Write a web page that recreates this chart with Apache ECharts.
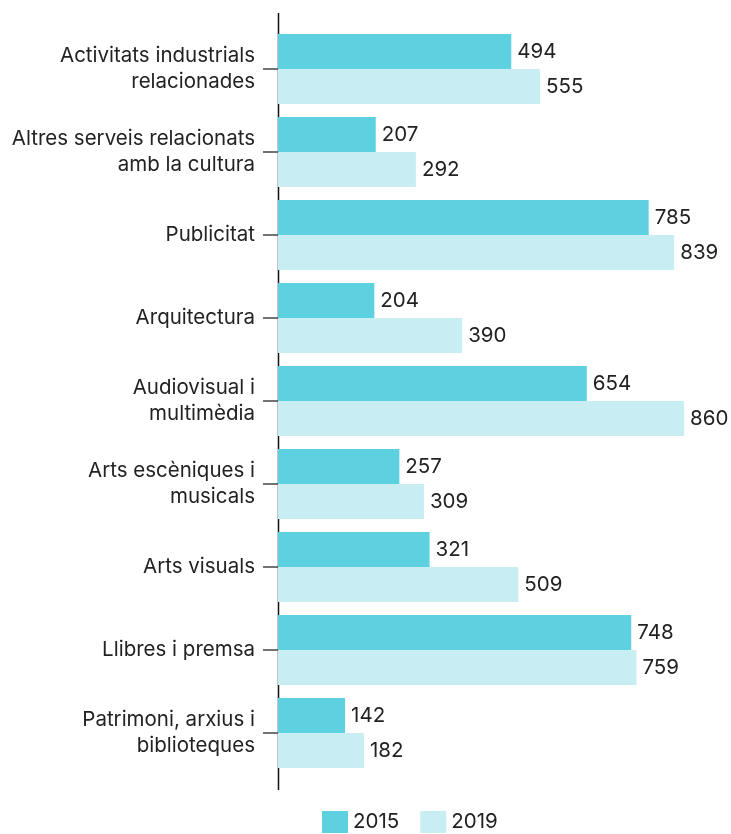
<!DOCTYPE html>
<html><head><meta charset="utf-8">
<script src="https://cdn.jsdelivr.net/npm/echarts@6/dist/echarts.min.js"></script>
<style>html,body{margin:0;padding:0;background:#fff}#c{width:731px;height:834px}</style>
</head><body><div id="c"></div>
<script>
const categories = [
  "Activitats industrials\nrelacionades",
  "Altres serveis relacionats\namb la cultura",
  "Publicitat",
  "Arquitectura",
  "Audiovisual i\nmultimèdia",
  "Arts escèniques i\nmusicals",
  "Arts visuals",
  "Llibres i premsa",
  "Patrimoni, arxius i\nbiblioteques"
];
const values2015 = [494, 207, 785, 204, 654, 257, 321, 748, 142];
const values2019 = [555, 292, 839, 390, 860, 309, 509, 759, 182];
const seriesNames = ["2015", "2019"];

const FONT = "Inter, Roboto, sans-serif";
const FS = 20.5;
const chart = echarts.init(document.getElementById('c'), null, {renderer: 'canvas'});
chart.setOption({
  animation: false,
  textStyle: {fontFamily: FONT},
  grid: {left: 278, top: 27.5, width: 425, height: 747, containLabel: false},
  xAxis: {type: 'value', min: 0, max: 900, show: false},
  yAxis: {
    type: 'category', data: categories, inverse: true,
    axisLine: {show: false},
    axisTick: {show: true, alignWithLabel: true, length: 15, lineStyle: {color: '#444', width: 1.5}},
    axisLabel: {margin: 23, fontSize: FS, lineHeight: 26, color: '#222', fontFamily: FONT}
  },
  legend: {
    data: seriesNames, top: 806, left: 317, itemWidth: 26, itemHeight: 22, itemGap: 21,
    icon: 'rect',
    textStyle: {fontSize: FS, color: '#222', fontFamily: FONT, padding: [4, 0, 0, 0]}
  },
  graphic: [{
    type: 'line', shape: {x1: 278.5, y1: 13, x2: 278.5, y2: 790},
    style: {stroke: '#111', lineWidth: 1.5}, silent: true
  }],
  series: [
    {name: seriesNames[0], type: 'bar', data: values2015, barGap: '0%', barCategoryGap: '15.7%',
     itemStyle: {color: '#5ED1E0'},
     label: {show: true, position: 'right', distance: 6, fontSize: FS, color: '#222', fontFamily: FONT}},
    {name: seriesNames[1], type: 'bar', data: values2019, barGap: '0%', barCategoryGap: '15.7%',
     itemStyle: {color: '#C8EDF3'},
     label: {show: true, position: 'right', distance: 6, fontSize: FS, color: '#222', fontFamily: FONT}}
  ]
});
</script></body></html>
